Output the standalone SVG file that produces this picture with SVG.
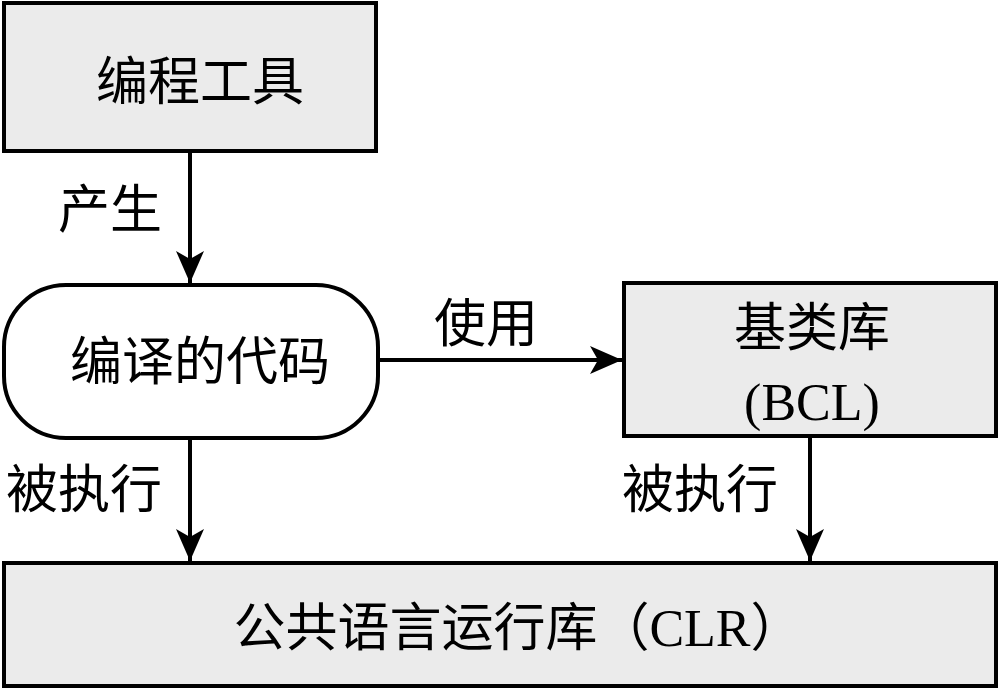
<svg xmlns="http://www.w3.org/2000/svg" width="1000" height="689" viewBox="0 0 1000 689">
<style>
.b{fill:#ebebeb;stroke:#000;stroke-width:4}
.r{fill:#fff;stroke:#000;stroke-width:4}
.t{font-family:"Liberation Serif","Noto Sans CJK SC",serif;font-size:52px;fill:#000}
.c{stroke:#000;stroke-width:4;fill:none}
</style>
<defs>
<marker id="m" viewBox="0 0 32 28" refX="32" refY="14" markerWidth="32" markerHeight="28" orient="auto" markerUnits="userSpaceOnUse"><path d="M0,0 L32,14 L0,28 L8,14 Z" fill="#000"/></marker></defs>
<g id="n1"><rect class="b" x="4" y="3" width="372" height="148"/><text class="t" x="200" y="100" text-anchor="middle">编程工具</text></g>
<g id="n2"><rect class="r" x="4" y="285" width="374" height="153" rx="62"/><text class="t" x="200" y="380" text-anchor="middle">编译的代码</text></g>
<g id="n3"><rect class="b" x="624" y="283" width="372" height="153"/><text class="t" x="812" y="346" text-anchor="middle">基类库</text><text class="t" x="812" y="420" text-anchor="middle">(BCL)</text></g>
<g id="n4"><rect class="b" x="4" y="563" width="992" height="123"/><text class="t" x="518" y="646" text-anchor="middle">公共语言运行库（CLR）</text></g>
<g id="connectors">
<line class="c" x1="190" y1="151" x2="190" y2="283" marker-end="url(#m)"/>
<line class="c" x1="378" y1="360" x2="622" y2="360" marker-end="url(#m)"/>
<line class="c" x1="190" y1="438" x2="190" y2="561" marker-end="url(#m)"/>
<line class="c" x1="810" y1="436" x2="810" y2="561" marker-end="url(#m)"/>
<text class="t" x="58" y="228">产生</text>
<text class="t" x="434" y="342">使用</text>
<text class="t" x="6" y="508">被执行</text>
<text class="t" x="622" y="508">被执行</text>
</g>
</svg>
